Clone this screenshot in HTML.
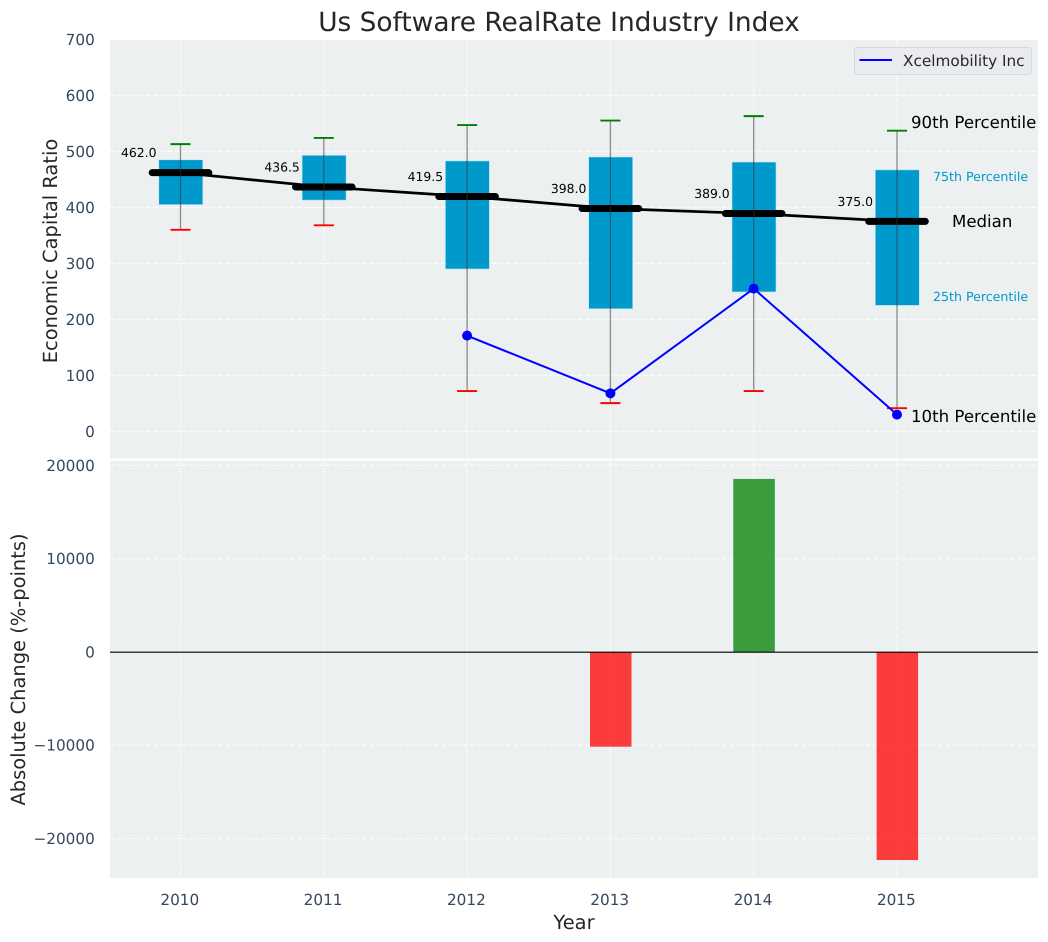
<!DOCTYPE html>
<html lang="en">
<head>
<meta charset="utf-8">
<title>Us Software RealRate Industry Index</title>
<style>
html,body{margin:0;padding:0;background:#fff;width:1048px;height:942px;overflow:hidden}
svg{display:block;font-family:"DejaVu Sans","Liberation Sans",sans-serif;text-rendering:geometricPrecision}
.tick{font-size:15.28px;fill:#34495e}
.axis-title{font-size:19.44px;fill:#262626}
</style>
</head>
<body>
<svg id="chart" xmlns="http://www.w3.org/2000/svg" width="1048" height="942" viewBox="0 0 1048 942">
  <text x="559" y="31" text-anchor="middle" font-size="26.4" fill="#262626">Us Software RealRate Industry Index</text>
  <rect x="110" y="40" width="928" height="418.5" fill="#ecf0f1"/>
  <rect x="110" y="460.5" width="928" height="417.5" fill="#ecf0f1"/>
  <g id="grid"></g>
  <g id="boxes"></g>
  <g id="bars"></g>
  <line x1="110" x2="1038" y1="652.2" y2="652.2" stroke="#000" stroke-width="1.2"/>
  <g id="median-series"></g>
  <g id="company-series"></g>
  <g id="ticks"></g>
  <text class="axis-title" transform="translate(57,251) rotate(-90)" text-anchor="middle">Economic Capital Ratio</text>
  <text class="axis-title" transform="translate(25,669.5) rotate(-90)" text-anchor="middle">Absolute Change (%-points)</text>
  <text class="axis-title" x="574" y="929" text-anchor="middle">Year</text>
  <g>
    <rect x="854.5" y="47.5" width="177" height="27" rx="3" fill="#e9ebf1" stroke="#d5d8dc" stroke-width="1"/>
    <line x1="859.5" x2="892" y1="60" y2="60" stroke="#0000ff" stroke-width="2"/>
    <text x="903" y="66" font-size="15.28" fill="#262626">Xcelmobility Inc</text>
  </g>
  <text x="911" y="128" font-size="16.6" fill="#000">90th Percentile</text>
  <text x="933" y="181" font-size="12.6" fill="#0099cc">75th Percentile</text>
  <text x="952" y="227" font-size="16.6" fill="#000">Median</text>
  <text x="933" y="301" font-size="12.6" fill="#0099cc">25th Percentile</text>
  <text x="911" y="422" font-size="16.6" fill="#000">10th Percentile</text>
</svg>
<script>
const years = [2010, 2011, 2012, 2013, 2014, 2015];
const p90 = [513, 524, 547, 555, 563, 537];
const p75 = [485, 493, 483, 490, 481, 467];
const median = [462, 436.5, 419.5, 398, 389, 375];
const p25 = [405, 413, 290, 219, 249, 225];
const p10 = [360, 368, 72, 50.5, 72, 41.5];
const companyYears = [2012, 2013, 2014, 2015];
const companyValues = [171, 68, 255, 30];
const changeYears = [2013, 2014, 2015];
const changeValues = [-10150, 18550, -22300];
const upperTicks = [0, 100, 200, 300, 400, 500, 600, 700];
const lowerTicks = [-20000, -10000, 0, 10000, 20000];

const NS = 'http://www.w3.org/2000/svg';
const xScale = function (year) { return 180.5 + (year - 2010) * 143.3; };
const yUpper = function (v) { return 431.4 - v * 0.56; };
const yLower = function (v) { return 652 - v * 0.00933; };
function mk(parent, tag, attrs, text) {
  const el = document.createElementNS(NS, tag);
  for (const k in attrs) el.setAttribute(k, attrs[k]);
  if (text !== undefined) el.textContent = text;
  parent.appendChild(el);
  return el;
}
function label(v) { return String(v).replace('-', '\u2212'); }

const grid = document.getElementById('grid');
const gridStyle = { stroke: '#ffffff', 'stroke-width': 1, 'stroke-dasharray': '5 2.2', opacity: 0.9 };
upperTicks.forEach(function (t) {
  const el = mk(grid, 'line', Object.assign({ x1: 110, x2: 1038, y1: yUpper(t), y2: yUpper(t) }, gridStyle));
  
  
});
lowerTicks.forEach(function (t) {
  const el = mk(grid, 'line', Object.assign({ x1: 110, x2: 1038, y1: yLower(t), y2: yLower(t) }, gridStyle));
  
  
});
years.forEach(function (yr) {
  const a = mk(grid, 'line', Object.assign({ x1: xScale(yr), x2: xScale(yr), y1: 40, y2: 458.5 }, gridStyle));
  
  
  const b = mk(grid, 'line', Object.assign({ x1: xScale(yr), x2: xScale(yr), y1: 460.5, y2: 878 }, gridStyle));
  
  
});

const boxes = document.getElementById('boxes');
years.forEach(function (yr, i) {
  const cx = xScale(yr);
  const box = mk(boxes, 'rect', { x: cx - 21.7, y: yUpper(p75[i]), width: 44, height: yUpper(p25[i]) - yUpper(p75[i]), fill: '#0099cc', stroke: '#bfe3ee', 'stroke-width': 0.6 });
  
  
});

const bars = document.getElementById('bars');
changeYears.forEach(function (yr, i) {
  const v = changeValues[i];
  const y0 = yLower(Math.max(v, 0));
  const h = Math.abs(yLower(v) - yLower(0));
  const bar = mk(bars, 'rect', { x: xScale(yr) - 20.4, y: y0, width: 41.5, height: h, fill: v < 0 ? '#ff0000' : '#008000', 'fill-opacity': 0.75 });
  
  
});

const medianGroup = document.getElementById('median-series');
const medianLine = mk(medianGroup, 'polyline', {
  points: years.map(function (yr, i) { return xScale(yr) + ',' + yUpper(median[i]); }).join(' '),
  fill: 'none', stroke: '#000', 'stroke-width': 2.7
});


years.forEach(function (yr, i) {
  const cx = xScale(yr);
  const seg = mk(medianGroup, 'line', { x1: cx - 28.3, x2: cx + 28.3, y1: yUpper(median[i]), y2: yUpper(median[i]), stroke: '#000', 'stroke-width': 7, 'stroke-linecap': 'round' });
  
  
  const whisker = mk(medianGroup, 'line', { x1: cx, x2: cx, y1: yUpper(p90[i]), y2: yUpper(p10[i]), stroke: '#333', 'stroke-opacity': 0.55, 'stroke-width': 1.3 });
  
  
  const capHi = mk(medianGroup, 'line', { x1: cx - 10, x2: cx + 10, y1: yUpper(p90[i]), y2: yUpper(p90[i]), stroke: '#008000', 'stroke-width': 1.9 });
  
  
  const capLo = mk(medianGroup, 'line', { x1: cx - 10, x2: cx + 10, y1: yUpper(p10[i]), y2: yUpper(p10[i]), stroke: '#ff0000', 'stroke-width': 1.9 });
  
  
  const val = mk(medianGroup, 'text', { x: cx - 24, y: yUpper(median[i]) - 15.5, 'text-anchor': 'end', 'font-size': 12.4, fill: '#000' }, median[i].toFixed(1));
  
  
});

const companyGroup = document.getElementById('company-series');
const companyLine = mk(companyGroup, 'polyline', {
  points: companyYears.map(function (yr, i) { return xScale(yr) + ',' + yUpper(companyValues[i]); }).join(' '),
  fill: 'none', stroke: '#0000ff', 'stroke-width': 2
});


companyYears.forEach(function (yr, i) {
  const dot = mk(companyGroup, 'circle', { cx: xScale(yr), cy: yUpper(companyValues[i]), r: 5, fill: '#0000ff' });
  
  
});

const ticks = document.getElementById('ticks');
upperTicks.forEach(function (t) {
  const el = mk(ticks, 'text', { class: 'tick', x: 94.8, y: yUpper(t) + 5.4, 'text-anchor': 'end' }, label(t));
  
  
});
lowerTicks.forEach(function (t) {
  const el = mk(ticks, 'text', { class: 'tick', x: 94.8, y: yLower(t) + 5.4, 'text-anchor': 'end' }, label(t));
  
  
});
years.forEach(function (yr) {
  const el = mk(ticks, 'text', { class: 'tick', x: xScale(yr) - 0.7, y: 905, 'text-anchor': 'middle' }, String(yr));
  
  
});
</script>
</body>
</html>
